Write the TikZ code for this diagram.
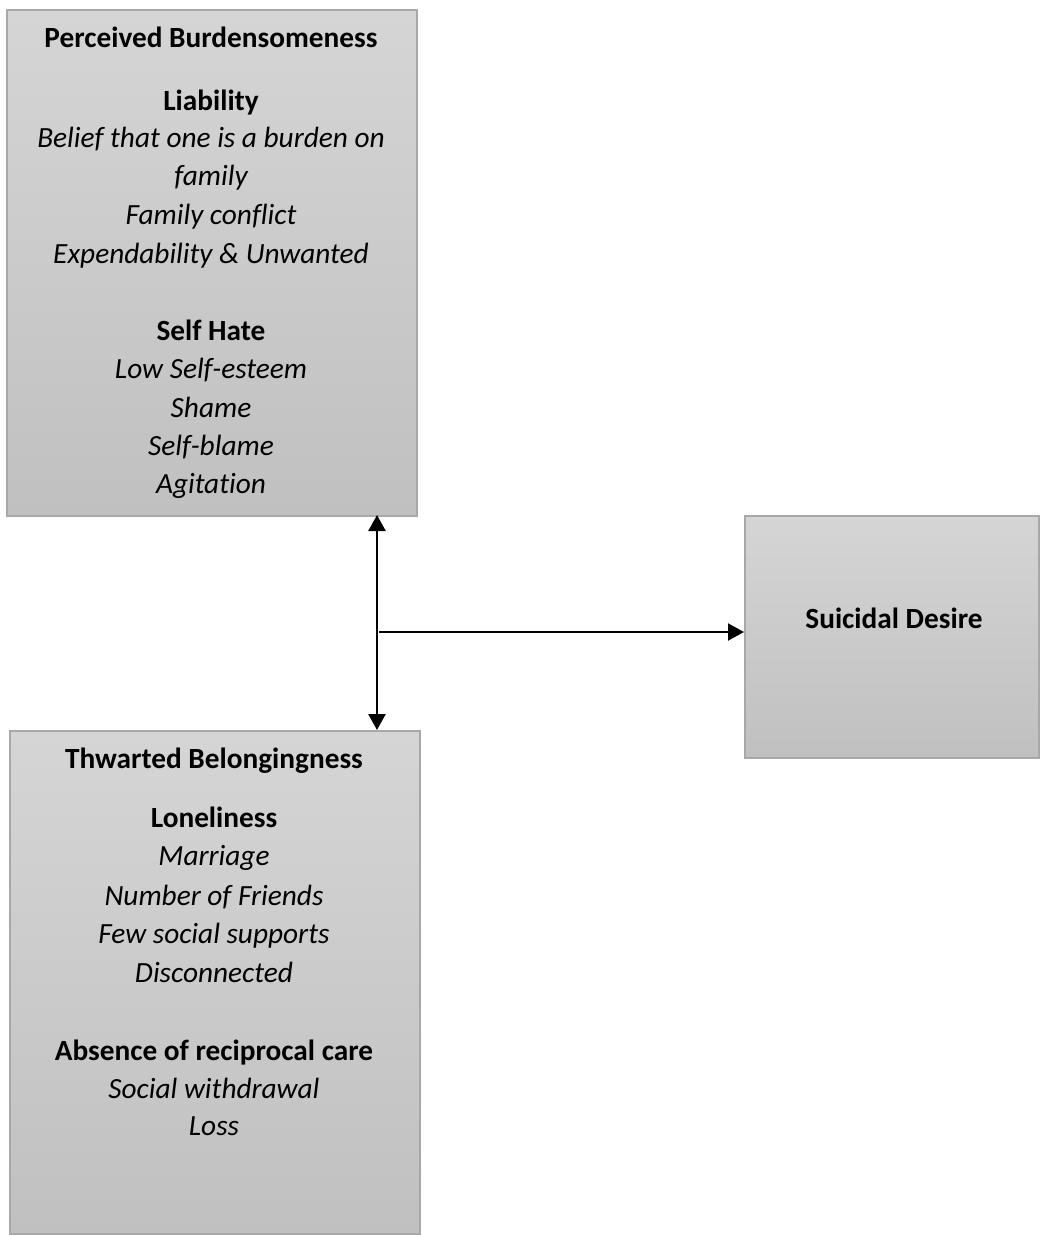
\documentclass[tikz,border=0pt]{standalone}
\usepackage{fontspec}
\setmainfont{Carlito}[Ligatures = NoCommon]
\usetikzlibrary{arrows.meta}
\definecolor{boxtop}{RGB}{213,213,213}
\definecolor{boxbot}{RGB}{192,192,192}
\definecolor{boxline}{RGB}{168,168,168}
\tikzset{
  box/.style = {draw = boxline, line width = 1.5pt, top color = boxtop,
    bottom color = boxbot, anchor = north west, inner sep = 0pt},
  head/.style = {font = \fontsize{29.3}{36}\selectfont\bfseries, anchor = base},
  item/.style = {font = \fontsize{29.3}{36}\selectfont\itshape, anchor = base},
  > = {Triangle[width = 17pt, length = 16pt]}
}
\begin{document}
\begin{tikzpicture}[x = 1pt, y = -1pt]
    \useasboundingbox (0, 0) rectangle (1040, 1235);

    \node[box, minimum width = 410pt, minimum height = 506pt] (pb) at (6, 9) {};
    \node[box, minimum width = 410pt, minimum height = 503pt] (tb) at (9, 730) {};
    \node[box, minimum width = 294pt, minimum height = 242pt] (sd) at (744, 515) {};

    \node[head] (pbh) at (211, 47) {Perceived Burdensomeness};
    \node[head] (pbl) at (211, 110) {Liability};
    \foreach \t [count = \i] / \y in {Belief that one is a burden on/147, family/185,
        Family conflict/224, Expendability \& Unwanted/263}
      \node[item] (pbl\i) at (211, \y) {\t};
    \node[head] (pbs) at (211, 340) {Self Hate};
    \foreach \t [count = \i] / \y in {Low Self-esteem/378, Shame/417, Self-blame/455,
        Agitation/493}
      \node[item] (pbs\i) at (211, \y) {\t};

    \node[head] (tbh) at (214, 768) {Thwarted Belongingness};
    \node[head] (tbl) at (214, 827) {Loneliness};
    \foreach \t [count = \i] / \y in {Marriage/865, Number of Friends/905,
        Few social supports/943, Disconnected/982}
      \node[item] (tbl\i) at (214, \y) {\t};
    \node[head] (tba) at (214, 1060) {Absence of reciprocal care};
    \foreach \t [count = \i] / \y in {Social withdrawal/1098, Loss/1135}
      \node[item] (tba\i) at (214, \y) {\t};

    \node[head] (sdh) at (894, 628) {Suicidal Desire};

    \coordinate (up) at (377, 515);
    \coordinate (jn) at (379, 632);
    \draw[<->, line width = 2.5pt] (up) -- (up |- tb.north);
    \draw[->, line width = 2pt] (jn) -- (jn -| sd.west);
  \end{tikzpicture}
\end{document}
